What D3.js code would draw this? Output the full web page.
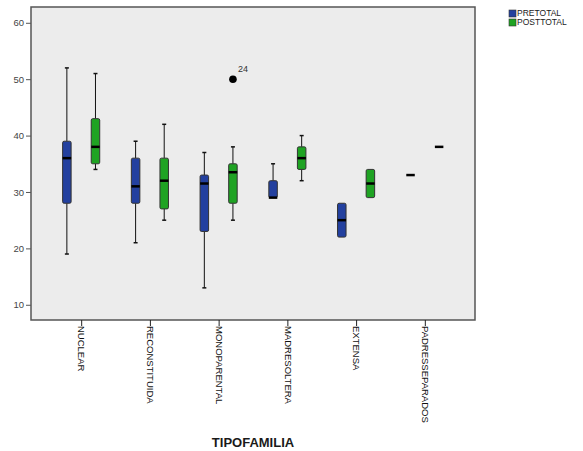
<!DOCTYPE html>
<html>
<head>
<meta charset="utf-8">
<script src="https://cdn.jsdelivr.net/npm/d3@7"></script>
<style>
  body { margin: 0; background: #fff; }
  svg { display: block; font-family: Arial, "Liberation Sans", sans-serif; }
</style>
</head>
<body>
<div id="chart"></div>
<script>
const categories = ["NUCLEAR", "RECONSTITUIDA", "MONOPARENTAL", "MADRESOLTERA", "EXTENSA", "PADRESSEPARADOS"]
const seriesNames = ["PRETOTAL", "POSTTOTAL"]
// [min, q1, median, q3, max]
const preTotal = [
    [19, 28, 36, 39, 52],
    [21, 28, 31, 36, 39],
    [13, 23, 31.5, 33, 37],
    [29, 29, 29, 32, 35],
    [22, 22, 25, 28, 28],
    [33, 33, 33, 33, 33]
]
const postTotal = [
    [34, 35, 38, 43, 51],
    [25, 27, 32, 36, 42],
    [25, 28, 33.5, 35, 38],
    [32, 34, 36, 38, 40],
    [29, 29, 31.5, 34, 34],
    [38, 38, 38, 38, 38]
]
const outliers = [{ category: "MONOPARENTAL", series: "POSTTOTAL", value: 50, label: "24" }]
const yTicks = [10, 20, 30, 40, 50, 60]

const width = 583
const height = 451
const plot = { left: 31, top: 7, right: 475, bottom: 320 }
const colors = { PRETOTAL: "#23409f", POSTTOTAL: "#1fa323" }

const svg = d3.select("#chart").append("svg")
    .attr("width", width)
    .attr("height", height)

const x = d3.scalePoint()
    .domain(categories)
    .range([plot.left, plot.right])
    .padding(0.73)

const offset = d3.scalePoint()
    .domain(seriesNames)
    .range([-14.3, 14.3])

const y = d3.scaleLinear()
    .domain([7.3, 62.8])
    .range([plot.bottom, plot.top])

svg.append("rect")
    .attr("x", plot.left)
    .attr("y", plot.top)
    .attr("width", plot.right - plot.left)
    .attr("height", plot.bottom - plot.top)
    .attr("fill", "#ececec")
    .attr("stroke", "#555")
    .attr("stroke-width", 1.5)

// axes
const yAxis = svg.append("g")
    .attr("transform", `translate(${plot.left},0)`)
    .call(d3.axisLeft(y).tickValues(yTicks).tickSize(5).tickPadding(2))
yAxis.select(".domain").remove()
yAxis.selectAll("line").attr("stroke", "#555")
yAxis.selectAll("text").attr("fill", "#444").style("font-size", "9.5px")

const xAxis = svg.append("g")
    .attr("transform", `translate(0,${plot.bottom})`)
    .call(d3.axisBottom(x).tickSize(6).tickPadding(0))
xAxis.select(".domain").remove()
xAxis.selectAll("line").attr("stroke", "#222")
xAxis.selectAll("text")
    .attr("fill", "#111")
    .style("font-size", "9.5px")
    .attr("text-anchor", "start")
    .attr("transform", "rotate(90)")
    .attr("x", 6)
    .attr("y", 0)
    .attr("dy", "0.35em")

svg.append("text")
    .attr("x", (plot.left + plot.right) / 2)
    .attr("y", 447)
    .attr("text-anchor", "middle")
    .style("font-size", "13px")
    .style("font-weight", "bold")
    .attr("fill", "#1a1a1a")
    .text("TIPOFAMILIA")

// boxes
const boxW = 8.5
const capW = 4
const rows = []
categories.forEach((c, i) => {
    rows.push({ category: c, series: "PRETOTAL", s: preTotal[i] })
    rows.push({ category: c, series: "POSTTOTAL", s: postTotal[i] })
})

const g = svg.selectAll(".box")
    .data(rows)
    .enter()
    .append("g")
    .attr("class", "box")
    .attr("transform", d => `translate(${x(d.category) + offset(d.series)},0)`)

g.filter(d => d.s[4] > d.s[3]).append("line")
    .attr("y1", d => y(d.s[3])).attr("y2", d => y(d.s[4]))
    .attr("stroke", "#111").attr("stroke-width", 1)
g.filter(d => d.s[4] > d.s[3]).append("line")
    .attr("x1", -capW / 2).attr("x2", capW / 2)
    .attr("y1", d => y(d.s[4])).attr("y2", d => y(d.s[4]))
    .attr("stroke", "#111").attr("stroke-width", 1.5)
g.filter(d => d.s[1] > d.s[0]).append("line")
    .attr("y1", d => y(d.s[0])).attr("y2", d => y(d.s[1]))
    .attr("stroke", "#111").attr("stroke-width", 1)
g.filter(d => d.s[1] > d.s[0]).append("line")
    .attr("x1", -capW / 2).attr("x2", capW / 2)
    .attr("y1", d => y(d.s[0])).attr("y2", d => y(d.s[0]))
    .attr("stroke", "#111").attr("stroke-width", 1.5)

g.filter(d => d.s[3] > d.s[1]).append("rect")
    .attr("x", -boxW / 2)
    .attr("width", boxW)
    .attr("y", d => y(d.s[3]))
    .attr("height", d => y(d.s[1]) - y(d.s[3]))
    .attr("rx", 1.5)
    .attr("fill", d => colors[d.series])
    .attr("stroke", "#333")
    .attr("stroke-width", 1)

g.append("line")
    .attr("x1", -boxW / 2).attr("x2", boxW / 2)
    .attr("y1", d => y(d.s[2])).attr("y2", d => y(d.s[2]))
    .attr("stroke", "#000").attr("stroke-width", 2.5)

// outliers
svg.selectAll(".outlier")
    .data(outliers)
    .enter()
    .append("circle")
    .attr("cx", d => x(d.category) + offset(d.series))
    .attr("cy", d => y(d.value))
    .attr("r", 3.8)
    .attr("fill", "#000")

svg.selectAll(".outlier-label")
    .data(outliers)
    .enter()
    .append("text")
    .attr("x", d => x(d.category) + offset(d.series) + 5)
    .attr("y", d => y(d.value) - 7)
    .style("font-size", "9px")
    .attr("fill", "#333")
    .text(d => d.label)

// legend
const legend = svg.selectAll(".legend")
    .data(seriesNames)
    .enter()
    .append("g")
    .attr("transform", (d, i) => `translate(509,${10 + i * 9})`)

legend.append("rect")
    .attr("width", 7)
    .attr("height", 7)
    .attr("fill", d => colors[d])
    .attr("stroke", "#333")
    .attr("stroke-width", 0.6)

legend.append("text")
    .attr("x", 8)
    .attr("y", 3.5)
    .attr("dy", "0.35em")
    .style("font-size", "8.5px")
    .attr("fill", "#1a1a1a")
    .text(d => d)
</script>
</body>
</html>
